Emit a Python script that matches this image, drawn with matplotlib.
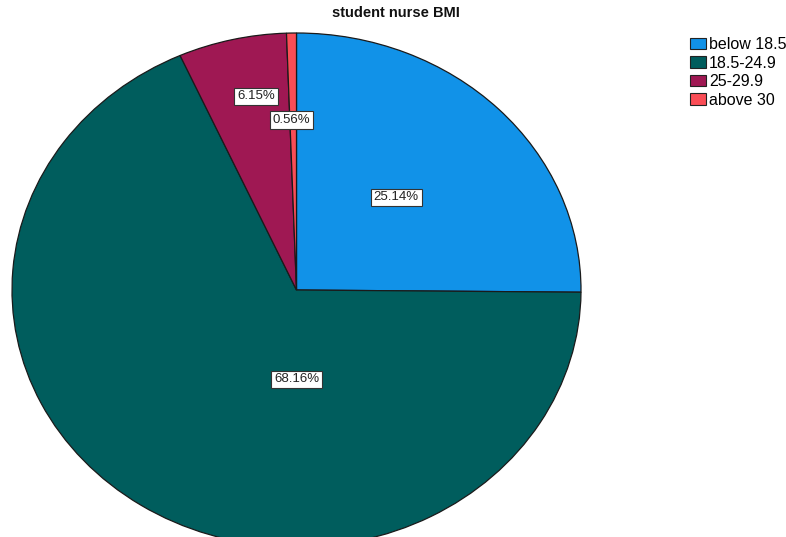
import matplotlib.pyplot as plt

# data
categories = ["below 18.5", "18.5-24.9", "25-29.9", "above 30"]
percents = [25.14, 68.16, 6.15, 0.56]
colors = ["#1192e8", "#005d5d", "#9f1853", "#fa4d56"]

# label box centres, in pie radius units (x, y)
label_pos = [(0.351, 0.360), (0.0, -0.348), (-0.142, 0.753), (-0.017, 0.660)]

plt.rcParams['font.family'] = ['Liberation Sans', 'DejaVu Sans']

W, H = 786, 537
fig = plt.figure(figsize=(W / 100, H / 100), dpi=100)

# pie drawn as an ellipse: left 12px, right 581px, top 33px, bottom 547px
ax = fig.add_axes([12 / W, (H - 547) / H, 569 / W, 514 / H])
wedges, _ = ax.pie(percents, colors=colors, startangle=90, counterclock=False,
                   radius=1, wedgeprops=dict(edgecolor='#1a1a1a', linewidth=0.9))
for w in wedges:
    w.set_clip_on(False)
ax.set_aspect('auto')
ax.set_xlim(-1, 1)
ax.set_ylim(-1, 1)

for p, (x, y) in zip(percents, label_pos):
    ax.text(x, y, f"{p:.2f}%", ha='center', va='center', fontsize=9.5,
            color='#222222',
            bbox=dict(boxstyle='square,pad=0.22', facecolor='white',
                      edgecolor='#333333', linewidth=0.8))

fig.text(396 / W, 1 - 13 / H, "student nurse BMI", ha='center', va='center',
         fontsize=10.5, fontweight='bold', color='#111111')

leg = fig.legend(wedges, categories, loc='upper left',
                 bbox_to_anchor=(690 / W, 1 - 37 / H), frameon=False,
                 fontsize=11.5, handlelength=1.0, handleheight=0.75,
                 handletextpad=0.2, labelspacing=0.22, borderpad=0,
                 borderaxespad=0)
for h in leg.legend_handles:
    h.set_edgecolor('#222222')
    h.set_linewidth(0.8)

fig.savefig("out.png", dpi=100)
